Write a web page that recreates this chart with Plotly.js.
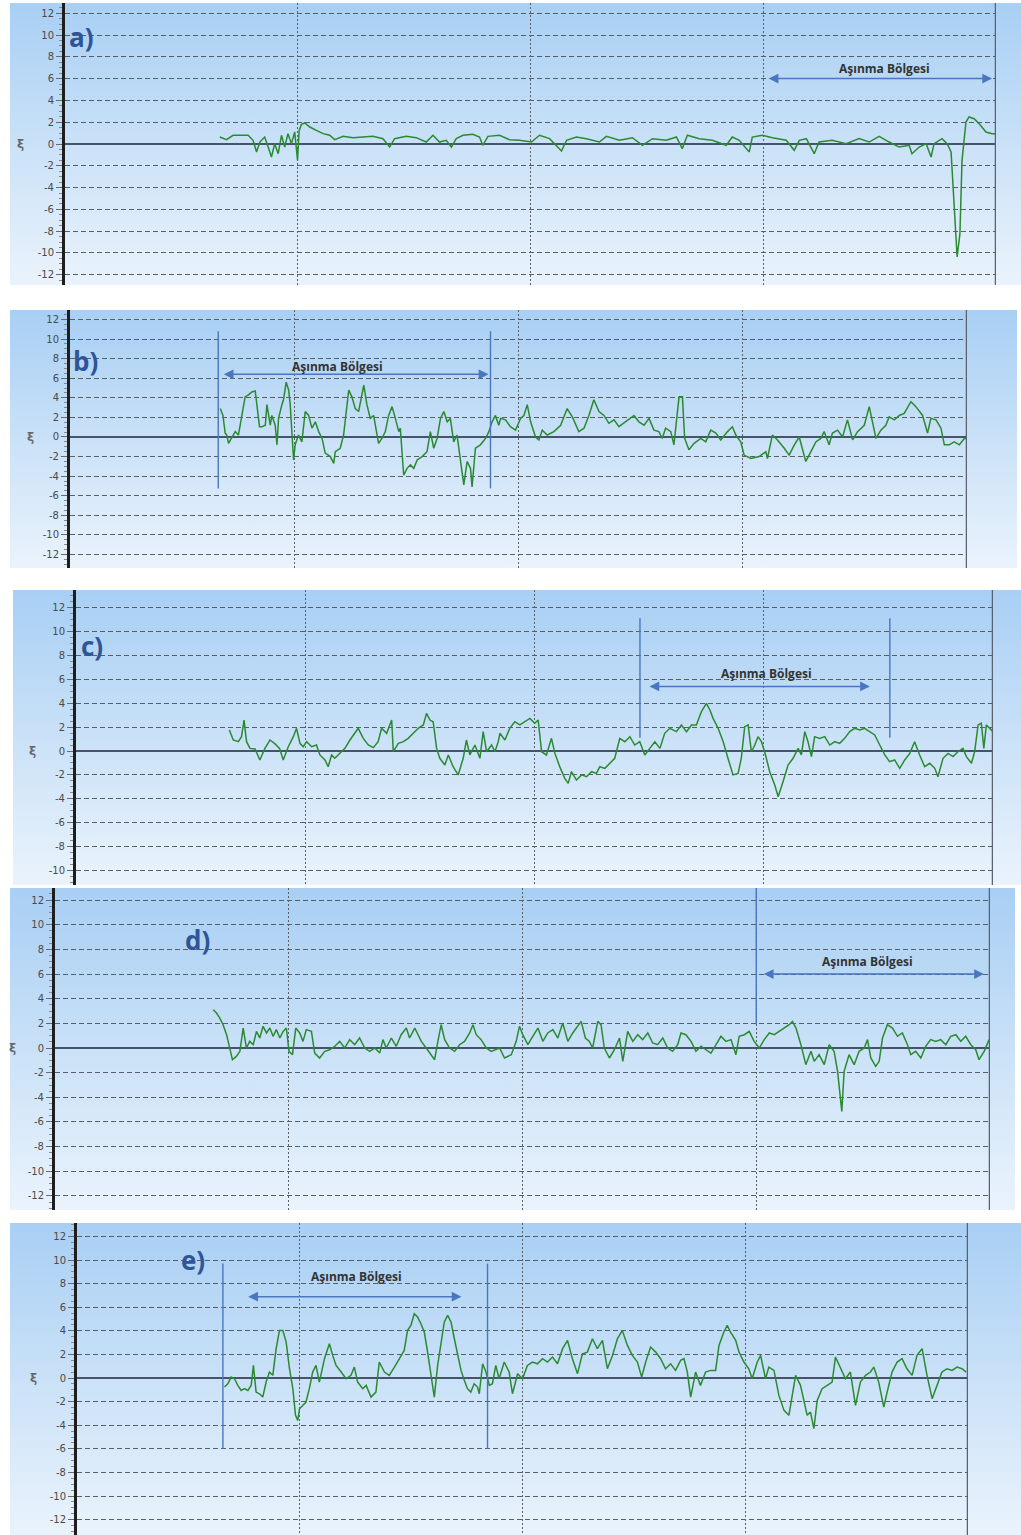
<!DOCTYPE html>
<html>
<head>
<meta charset="utf-8">
<script src="https://cdn.plot.ly/plotly-3.0.1.min.js"></script>
<style>
  html, body { margin: 0; padding: 0; background: #ffffff; }
  #chart { width: 1021px; height: 1535px; }
</style>
</head>
<body>
<div id="chart"></div>
<script>
// ---- signal data (position along the track, 0-400; ξ value) ----
const xA = [66.5,69.4,72.2,78.7,80.8,82.3,83.7,85.8,87.3,88.7,90.1,91.6,93.0,94.4,95.8,97.3,98.7,99.9,100.6,101.6,103.0,105.2,108.0,110.9,113.7,115.9,119.5,123.7,128.0,132.3,136.6,139.5,141.6,146.6,150.9,155.2,158.1,160.9,163.8,166.0,168.1,171.0,175.2,178.1,179.5,181.7,
  186.7,191.0,195.3,200.4,203.9,208.2,213.3,215.5,219.7,224.0,229.6,232.6,238.2,243.8,248.1,252.4,258.4,262.7,265.2,267.4,272.5,278.1,284.1,286.7,289.7,294.0,295.3,299.6,303.9,309.9,313.3,315.5,318.5,321.9,324.0,329.6,335.6,341.2,345.5,349.8,354.1,358.4,362.7,363.9,367.0,370.0,372.1,373.4,376.8,379.0,380.7,382.0,383.3,384.5,385.4,387.1,388.4,390.6,392.7,395.7,398.3,399.6];
const yA = [0.64,0.40,0.80,0.80,0.34,-0.73,0.18,0.64,-0.28,-1.19,0.03,-0.89,0.80,-0.28,0.95,0.03,1.10,-1.50,1.25,1.80,1.93,1.56,1.25,0.95,0.80,0.40,0.70,0.58,0.64,0.70,0.49,-0.28,0.49,0.70,0.58,0.18,0.80,0.18,0.34,-0.28,0.49,0.80,0.89,0.64,-0.12,0.70,
  0.80,0.40,0.34,0.18,0.80,0.49,-0.64,0.34,0.64,0.49,0.18,0.70,0.34,0.58,-0.12,0.49,0.34,0.64,-0.43,0.80,0.49,0.34,-0.12,0.64,0.34,-0.73,0.64,0.80,0.58,0.34,-0.58,0.34,0.49,-0.89,0.18,0.34,0.03,0.49,0.18,0.70,0.18,-0.28,-0.12,-0.89,-0.28,0.03,-1.19,0.03,0.49,0.03,-0.73,-5.17,-10.37,-8.23,-1.50,2.02,2.48,2.32,1.87,1.10,0.95,0.95];

const xB = [67.0,68.2,69.2,69.9,70.7,72.2,73.7,75.1,76.6,78.1,79.6,81.1,82.6,83.3,84.5,85.6,87.1,87.8,89.3,90.0,91.5,92.3,93.0,94.5,95.2,96.4,97.5,98.2,99.0,99.7,100.4,101.9,103.4,104.9,106.4,107.9,109.4,110.9,112.4,113.8,116.1,117.6,118.3,120.5,122.0,124.3,125.7,127.2,128.7,130.2,131.0,132.4,133.9,135.4,136.9,137.6,139.1,140.6,142.1,143.6,145.1,146.6,147.3,148.8,150.3,151.8,153.3,154.8,157.0,159.2,160.7,162.2,163.7,165.2,166.7,168.2,169.6,171.1,172.6,174.9,175.6,177.1,178.6,179.3,180.8,183.0,185.3,186.8,188.2,189.7,191.2,
  192.0,194.2,196.4,198.7,200.9,202.4,203.9,205.4,207.6,209.1,210.6,212.8,215.8,218.8,221.7,224.0,226.9,229.2,231.4,233.6,235.9,238.1,240.3,242.6,244.8,247.8,251.5,253.7,256.0,258.2,260.4,262.6,264.1,265.6,267.9,269.3,270.8,271.6,273.1,274.1,276.0,278.3,281.3,283.5,285.7,288.0,290.2,293.2,295.4,296.9,299.1,300.6,303.6,307.3,310.3,311.0,313.2,315.5,318.5,320.7,323.0,325.2,326.7,328.1,330.4,332.6,334.8,336.3,338.5,340.0,342.3,344.5,346.7,349.0,351.2,354.2,356.4,357.9,359.4,361.6,363.8,365.3,367.6,369.8,372.0,375.0,377.2,380.2,382.4,383.9,386.2,388.4,389.9,392.1,394.3,396.6,398.8,400.0];
const yB = [2.9,2.2,0.4,0.2,-0.65,0,0.55,0.2,2.2,4.1,4.3,4.6,4.7,3.3,1.05,1.05,1.2,3.3,1.2,2.2,1.2,-0.8,1.9,3.3,3.8,5.6,4.8,3.3,0.55,-2.35,-0.8,0.2,-0.5,2.6,2.2,0.9,1.55,0.55,-0.15,-1.65,-2.0,-2.7,-1.5,-1.15,0.2,4.8,4.1,2.9,2.6,4.45,5.3,3.3,1.9,2.2,0.2,-0.65,-0.15,0.55,2.2,3.1,1.9,0.55,0.9,-3.9,-3.2,-2.85,-3.2,-2.35,-2.0,-1.5,0.55,-1.15,-0.15,1.9,2.6,1.55,1.9,-0.5,0.2,-3.55,-4.9,-2.5,-3.2,-5.1,-1.15,-0.8,-0.15,0.55,1.55,2.2,1.2,
  1.9,1.75,1.05,0.7,1.9,2.2,3.3,1.55,0,-0.3,0.7,0.2,0.55,1.2,2.9,2.05,0.55,0.9,2.2,3.8,2.6,2.2,1.4,1.75,1.05,1.55,2.2,1.55,1.2,1.9,0.7,0.55,-0.15,0.9,0.55,-0.8,2.2,4.1,4.1,-0.15,-1.3,-0.65,-0.15,-0.5,0.7,0.4,-0.3,0.55,1.05,0.2,-0.5,-1.85,-2.2,-2.0,-1.5,-2.2,0.2,-0.3,-1.15,-1.85,-0.8,0,-1.3,-2.5,-1.5,-0.5,-0.15,0.55,-0.8,0.4,0.7,0,1.75,-0.3,0.55,1.2,3.1,1.55,-0.15,0.7,1.2,2.05,1.75,2.2,2.4,3.6,3.1,2.2,0.4,1.9,1.75,0.9,-0.8,-0.8,-0.5,-0.8,-0.15,-0.15];

const xC = [66.9,68.6,70.8,72.2,73.3,74.4,75.9,78.1,80.2,82.4,84.6,86.6,88.8,90.4,92.6,94.8,96.2,97.7,99.1,100.6,102.8,104.9,106.4,108.6,110.0,111.5,112.9,115.1,117.3,119.5,121.7,123.1,125.3,127.5,129.7,131.8,133.3,135.5,137.7,138.4,140.6,142.8,144.9,147.1,149.3,151.5,152.9,154.4,155.8,157.3,158.7,160.9,162.4,164.5,166.7,168.9,170.3,171.8,174.0,176.2,177.6,179.1,181.3,182.7,184.2,
  184.9,187.1,189.2,191.4,193.6,195.8,198.0,200.1,201.6,203.1,205.2,207.4,208.9,211.0,213.2,214.7,216.1,218.3,220.5,222.7,224.9,227.0,228.5,230.7,232.8,235.0,237.2,239.4,241.6,243.7,245.9,248.1,250.3,252.5,254.7,256.8,259.0,261.9,264.1,266.3,268.5,270.6,272.8,275.0,276.5,277.9,280.1,282.3,284.4,286.6,288.8,290.2,291.7,293.2,294.6,296.1,297.5,299.0,300.4,302.6,304.8,306.3,308.4,310.6,312.8,315.0,316.4,317.9,319.3,320.8,322.2,324.4,326.6,328.8,331.0,333.1,335.3,337.5,339.7,341.9,344.0,346.2,348.4,350.6,352.8,354.9,357.1,359.3,361.5,363.7,365.8,368.0,370.2,372.4,374.6,376.0,378.2,380.4,382.6,384.7,386.9,388.4,390.6,392.0,393.5,394.9,396.0,397.1,398.8,400.0];
const yC = [1.76,0.92,0.78,1.2,2.59,0.78,0.22,0.17,-0.75,0.22,0.92,0.64,0.22,-0.75,0.36,1.2,1.9,0.64,0.36,0.78,0.36,0.5,-0.33,-0.75,-1.31,-0.33,-0.61,-0.2,0.22,0.92,1.48,1.9,1.06,0.5,0.28,0.78,1.9,1.48,2.59,-0.06,0.64,0.78,1.06,1.48,1.9,2.18,3.15,2.59,2.45,0.22,-0.61,-1.17,-0.33,-1.31,-2.0,-0.61,0.92,-0.33,0.5,-0.61,1.62,-0.06,0.5,-0.06,0.78,
  1.48,0.92,1.9,2.45,2.18,2.45,2.73,2.32,2.59,-0.06,-0.33,1.06,-0.2,-1.31,-2.29,-2.71,-1.73,-2.43,-2.0,-2.15,-1.73,-1.87,-1.31,-1.45,-1.03,-0.61,1.06,0.78,1.2,0.5,0.78,-0.33,0.22,0.78,0.22,1.48,1.9,1.62,2.18,1.62,2.18,2.18,3.29,3.99,3.43,2.73,1.9,0.78,-0.61,-2.0,-1.87,-0.61,2.04,2.18,-0.06,0.5,1.2,0.78,-0.06,-1.73,-2.85,-3.82,-2.57,-1.17,-0.61,0.22,-0.33,1.62,0.78,-0.47,1.2,1.06,1.2,0.5,0.78,0.64,1.06,1.62,1.9,1.76,1.9,1.62,1.34,0.5,-0.33,-0.89,-0.75,-1.45,-0.75,-0.2,0.78,-0.33,-1.31,-1.03,-1.45,-2.15,-0.61,-0.2,-0.47,-0.06,0.22,-0.47,-1.03,-0.06,2.18,2.32,0.22,2.18,1.9,1.62];

const xD = [67.7,69.1,70.5,71.9,73.4,74.8,75.9,77.6,79.1,80.5,81.9,83.3,84.8,86.2,87.6,89.0,90.5,91.9,93.3,94.7,96.2,97.6,99.0,100.1,101.6,103.0,104.7,106.1,107.5,109.7,111.1,113.2,115.4,117.5,119.7,121.8,123.9,126.1,128.2,130.3,132.5,134.6,136.8,138.9,140.3,141.7,143.9,146.0,148.1,150.3,151.7,153.9,155.3,156.7,158.8,161.0,162.4,163.8,165.2,166.7,168.8,171.0,173.1,175.2,177.4,178.8,180.2,182.3,184.5,186.6,188.7,
  190.2,192.3,195.2,197.3,198.7,200.1,202.3,204.4,206.6,208.7,210.8,213.0,215.1,217.2,219.4,221.5,223.6,225.1,226.9,228.6,230.0,232.2,233.6,235.0,237.2,239.3,241.5,242.9,245.0,247.2,249.3,251.4,253.6,255.7,257.8,260.0,262.1,264.2,266.4,267.8,269.9,272.1,274.2,276.4,278.5,280.6,282.8,284.9,287.0,289.2,291.3,292.7,294.9,297.0,299.1,301.3,303.4,305.6,307.7,309.8,312.0,314.1,315.5,317.0,319.1,321.2,323.4,324.8,326.9,329.1,331.2,333.3,334.8,335.8,336.6,337.6,339.7,341.9,344.0,346.2,347.6,349.0,351.1,352.6,354.0,356.1,358.3,360.4,362.5,364.7,366.1,368.2,370.4,372.5,374.6,376.8,378.9,381.1,383.2,385.4,387.5,389.6,391.8,393.9,395.3,397.5,399.6];
const yD = [3.11,2.84,2.43,1.89,1.08,-0.14,-0.95,-0.68,-0.27,1.62,0,0.54,0.27,1.35,0.81,1.76,1.22,1.62,0.95,1.49,0.81,1.35,1.62,-0.27,-0.54,1.62,1.22,0.54,1.49,1.35,-0.41,-0.81,-0.27,-0.14,0.14,0.54,0,0.68,0.27,0.81,0,-0.27,0,-0.41,0.68,0,0.81,0.14,1.08,1.62,0.81,1.62,1.08,0.54,0,-0.54,-0.95,0.54,1.89,0.68,0,-0.27,0.27,0.54,1.22,1.89,1.08,0.68,0,-0.27,-0.14,
  0,-0.81,-0.54,0.54,1.76,1.08,0.27,0.95,1.62,0.54,1.22,1.49,0.81,2.03,0.54,1.22,1.76,2.16,0.81,0.54,0,2.16,1.89,0,-0.81,-0.14,0.81,-1.08,1.35,0.54,1.08,0.68,1.22,0.41,0.27,0.81,0,-0.27,0.27,1.22,1.08,0.54,-0.27,0.14,-0.14,-0.41,0.27,0.95,0.54,0.68,-0.54,0.95,1.08,1.35,0.54,0,0.68,1.22,1.08,1.35,1.62,1.89,2.16,1.62,0.27,-1.35,-0.27,-1.08,-0.54,-1.35,0.27,-0.27,-1.89,-4.05,-5.14,-1.89,-0.54,-1.35,-0.27,0,0.68,-0.81,-1.49,-1.08,0.81,1.89,1.62,0.95,1.22,0.27,-0.54,-0.27,-0.81,0.14,0.68,0.54,0.68,0.27,0.95,1.08,0.54,0.95,0.27,-0.14,-0.95,-0.27,0.68];

const xE = [66.2,67.7,69.2,70.7,72.2,73.7,75.2,76.7,78.2,79.2,80.4,81.9,83.4,84.9,86.4,87.9,89.4,90.9,92.4,93.9,95.4,96.9,98.1,99.1,99.9,101.3,102.8,104.3,105.8,107.3,108.8,111.1,113.3,114.8,116.3,118.6,120.8,123.0,124.5,126.0,128.3,129.8,132.0,134.2,135.7,138.0,140.2,142.5,144.7,146.9,148.4,149.9,151.4,152.9,154.4,155.9,157.4,158.9,160.4,161.9,163.4,164.9,166.4,167.9,169.4,170.9,172.4,173.9,175.3,176.8,178.3,179.8,180.6,182.1,183.6,185.1,186.5,188.0,
  189.5,191.8,194.0,195.5,197.8,200.0,202.2,204.5,206.7,209.0,211.2,213.5,215.7,218.0,220.2,222.4,224.7,226.9,229.1,231.4,233.6,235.9,238.1,240.4,242.6,244.8,247.1,249.3,251.6,253.5,255.3,257.5,259.8,262.0,264.2,266.5,268.7,271.0,272.5,274.0,275.5,277.7,279.9,282.2,284.4,286.7,288.2,290.4,291.9,293.4,295.7,297.2,299.4,301.6,303.1,305.4,306.9,309.1,310.6,312.9,315.1,317.4,319.6,321.1,322.6,324.8,326.3,327.8,329.3,330.8,332.3,334.5,336.8,339.0,340.5,342.8,345.0,347.2,349.5,351.7,354.0,356.2,357.7,359.9,362.2,363.7,365.9,368.2,370.4,372.6,374.9,377.1,379.4,381.6,383.9,386.1,388.3,390.6,392.8,395.1,397.3,399.2];
const yE = [-0.76,-0.48,0.08,-0.06,-0.62,-1.05,-0.9,-1.05,-0.62,1.07,-1.19,-1.33,-1.61,-0.34,0.51,0.23,2.49,4.04,4.04,3.05,0.79,-0.9,-3.16,-3.59,-2.6,-2.32,-2.03,-0.9,0.51,1.07,-0.34,1.64,2.91,1.92,1.07,0.51,-0.06,0.23,0.93,-0.34,-0.9,-0.62,-1.61,-1.19,1.36,0.51,0.23,0.93,1.64,2.34,4.04,4.46,5.45,5.17,4.6,3.9,2.2,0.23,-1.61,1.07,2.77,4.75,5.31,4.75,3.33,1.92,0.65,-0.2,-0.9,-1.19,-0.48,-0.76,-1.33,1.21,0.51,-0.62,-0.48,1.07,
  -0.06,1.36,0.51,-1.33,0.37,-0.06,1.07,1.36,1.21,1.64,1.36,1.78,1.21,2.49,3.19,1.64,0.37,2.06,2.2,3.33,2.49,3.19,0.79,1.92,3.33,4.04,2.77,1.92,1.36,0.08,1.36,2.63,2.2,1.64,0.79,1.21,0.65,1.5,1.64,0.51,-1.61,0.51,-0.62,0.51,0.65,0.65,2.77,3.9,4.46,3.9,3.19,2.2,1.36,0.79,-0.06,1.36,1.92,-0.06,0.93,0.65,-1.47,-2.74,-3.16,-1.47,0.23,-0.62,-1.89,-3.16,-2.88,-4.29,-1.89,-0.9,-0.62,-0.34,1.78,0.79,-0.06,0.51,-2.32,-0.34,0.23,0.51,0.93,-0.34,-2.46,-1.19,0.51,1.36,1.64,0.79,0.23,1.92,2.49,0.23,-1.75,-0.62,0.51,0.79,0.65,0.93,0.79,0.51];

// wear zone limits along the track, one pair per panel
const zoneA = [300, 400];
const zoneB = [66.1, 187.5];
const zoneC = [246.0, 355.0];
const zoneD = [300, 400];
const zoneE = [65.5, 184.3];

// texts and tick labels
const panelLetters = ['a)', 'b)', 'c)', 'd)', 'e)'];
const zoneLabel = 'Aşınma Bölgesi';
const yLabel = 'ξ';
const tickVals = [-12, -10, -8, -6, -4, -2, 0, 2, 4, 6, 8, 10, 12];
const tickText = ['-12', '-10', '-8', '-6', '-4', '-2', '0', '2', '4', '6', '8', '10', '12'];

// ---- page geometry (pixels) and per-panel decoration ----
const W = 1021, H = 1535;
const frames = [
  { left: 65, right: 996, top: 3,    bottom: 285,  yr: [-12.94, 12.94], bg: [10, 3, 1021, 285],    symX: 20,
    letter: [7.3, 9.8],  arrow: [301.7, 398.3, 6.0], text: [351.9, 6.9], markEnds: [],           markY: null },
  { left: 70, right: 967, top: 310,  bottom: 568,  yr: [-13.38, 12.97], bg: [10, 310, 1017, 568],  symX: 30,
    letter: [6.7, 7.8],  arrow: [67.9, 186.6, 6.4],  text: [119.2, 7.25], markEnds: [0, 1],     markY: [-5.25, 10.8] },
  { left: 76, right: 993, top: 590,  bottom: 885,  yr: [-11.21, 13.47], bg: [13, 590, 1021, 885],  symX: 32,
    letter: [7.0, 8.8],  arrow: [249.5, 346.3, 5.4], text: [301.4, 6.5], markEnds: [0, 1],      markY: [1.1, 11.1] },
  { left: 55, right: 990, top: 888,  bottom: 1210, yr: [-13.14, 12.98], bg: [10, 888, 1015, 1210], symX: 12,
    letter: [61.1, 8.8], arrow: [302.6, 397.4, 6.0], text: [347.4, 7.0], markEnds: [0],        markY: [1.9, 12.98] },
  { left: 77, right: 968, top: 1223, bottom: 1535, yr: [-13.3, 13.14],  bg: [10, 1223, 1021, 1535], symX: 33,
    letter: [52.0, 10.0], arrow: [76.2, 172.6, 6.9], text: [125.6, 8.6], markEnds: [0, 1],     markY: [-6.0, 9.7] }
];
const series = [[xA, yA], [xB, yB], [xC, yC], [xD, yD], [xE, yE]];
const zones = [zoneA, zoneB, zoneC, zoneD, zoneE];

const gradientSvg =
  "<svg xmlns='http://www.w3.org/2000/svg' width='100' height='100' viewBox='0 0 100 100' preserveAspectRatio='none'>" +
  "<defs><linearGradient id='g' x1='0' y1='0' x2='0' y2='1'>" +
  "<stop offset='0' stop-color='#A8CFF4'/><stop offset='0.55' stop-color='#CDE3F8'/><stop offset='1' stop-color='#EAF3FC'/>" +
  "</linearGradient></defs><rect x='0' y='0' width='100' height='100' fill='url(#g)'/></svg>";
const gradientUri = 'data:image/svg+xml;charset=utf-8,' + encodeURIComponent(gradientSvg);

const ZONE_BLUE = '#4A76C0';
const traces = [];
const layout = {
  width: W, height: H,
  margin: { l: 0, r: 0, t: 0, b: 0 },
  paper_bgcolor: '#ffffff',
  plot_bgcolor: 'rgba(0,0,0,0)',
  showlegend: false,
  font: { family: 'DejaVu Sans, sans-serif', color: '#444' },
  images: [], shapes: [], annotations: []
};

frames.forEach((f, i) => {
  const n = i === 0 ? '' : String(i + 1);
  const xa = 'x' + n, ya = 'y' + n;

  traces.push({
    type: 'scatter', mode: 'lines',
    x: series[i][0], y: series[i][1],
    xaxis: xa, yaxis: ya,
    line: { color: '#2A8A32', width: 1.5 },
    hoverinfo: 'skip'
  });

  layout['xaxis' + n] = {
    domain: [f.left / W, f.right / W],
    anchor: ya,
    range: [0, 400],
    tick0: 0, dtick: 100,
    showticklabels: false, ticks: '',
    showgrid: true, gridcolor: '#5a5f66', gridwidth: 1, griddash: '2px,2px',
    zeroline: false, showline: false, fixedrange: true
  };
  layout['yaxis' + n] = {
    domain: [1 - f.bottom / H, 1 - f.top / H],
    anchor: xa,
    range: f.yr,
    tickmode: 'array', tickvals: tickVals, ticktext: tickText,
    tickfont: { size: 10, color: '#4a4a4a', family: 'DejaVu Sans, sans-serif' },
    ticks: 'outside', ticklen: 6, tickcolor: '#6a6a6a', tickwidth: 1,
    minor: { tick0: 0, dtick: 0.5, ticks: 'outside', ticklen: 3, tickcolor: '#8a8a8a', showgrid: false },
    showgrid: true, gridcolor: '#5a5f66', gridwidth: 1, griddash: '5px,3px',
    zeroline: true, zerolinecolor: '#46536a', zerolinewidth: 1.6,
    showline: true, linecolor: '#1e1e1e', linewidth: 3,
    fixedrange: true
  };

  // panel background
  layout.images.push({
    source: gradientUri, xref: 'paper', yref: 'paper',
    x: f.bg[0] / W, y: 1 - f.bg[1] / H,
    sizex: (f.bg[2] - f.bg[0]) / W, sizey: (f.bg[3] - f.bg[1]) / H,
    xanchor: 'left', yanchor: 'top', sizing: 'stretch', layer: 'below'
  });

  // right-hand frame line
  layout.shapes.push({
    type: 'line', xref: xa, yref: ya + ' domain',
    x0: 400, x1: 400, y0: 0, y1: 1,
    line: { color: '#59626e', width: 2.5 }
  });

  // wear zone marker lines
  f.markEnds.forEach(k => {
    layout.shapes.push({
      type: 'line', xref: xa, yref: ya,
      x0: zones[i][k], x1: zones[i][k], y0: f.markY[0], y1: f.markY[1],
      line: { color: ZONE_BLUE, width: 1.4 }
    });
  });

  // double-headed wear zone arrow
  layout.annotations.push({
    xref: xa, yref: ya, axref: xa, ayref: ya,
    x: f.arrow[1], y: f.arrow[2], ax: f.arrow[0], ay: f.arrow[2],
    text: '', showarrow: true, arrowside: 'end+start',
    arrowhead: 2, arrowsize: 1.3, arrowwidth: 1.5, arrowcolor: ZONE_BLUE,
    standoff: 0, startstandoff: 0
  });
  layout.annotations.push({
    xref: xa, yref: ya, x: f.text[0], y: f.text[1],
    text: '<b>' + zoneLabel + '</b>', showarrow: false,
    xanchor: 'center', yanchor: 'middle',
    font: { family: 'Open Sans, sans-serif', size: 12, color: '#333333' }
  });

  // panel letter
  layout.annotations.push({
    xref: xa, yref: ya, x: f.letter[0], y: f.letter[1],
    text: '<b>' + panelLetters[i] + '</b>', showarrow: false,
    xanchor: 'center', yanchor: 'middle',
    font: { family: 'Open Sans, sans-serif', size: 26, color: '#2F5597' }
  });

  // y-axis symbol
  layout.annotations.push({
    xref: 'paper', yref: ya, x: f.symX / W, y: 0,
    text: '<b>' + yLabel + '</b>', showarrow: false,
    xanchor: 'center', yanchor: 'middle',
    font: { family: 'DejaVu Sans, sans-serif', size: 12, color: '#666666' }
  });
});

Plotly.newPlot('chart', traces, layout, { staticPlot: true, displayModeBar: false });
</script>
</body>
</html>
